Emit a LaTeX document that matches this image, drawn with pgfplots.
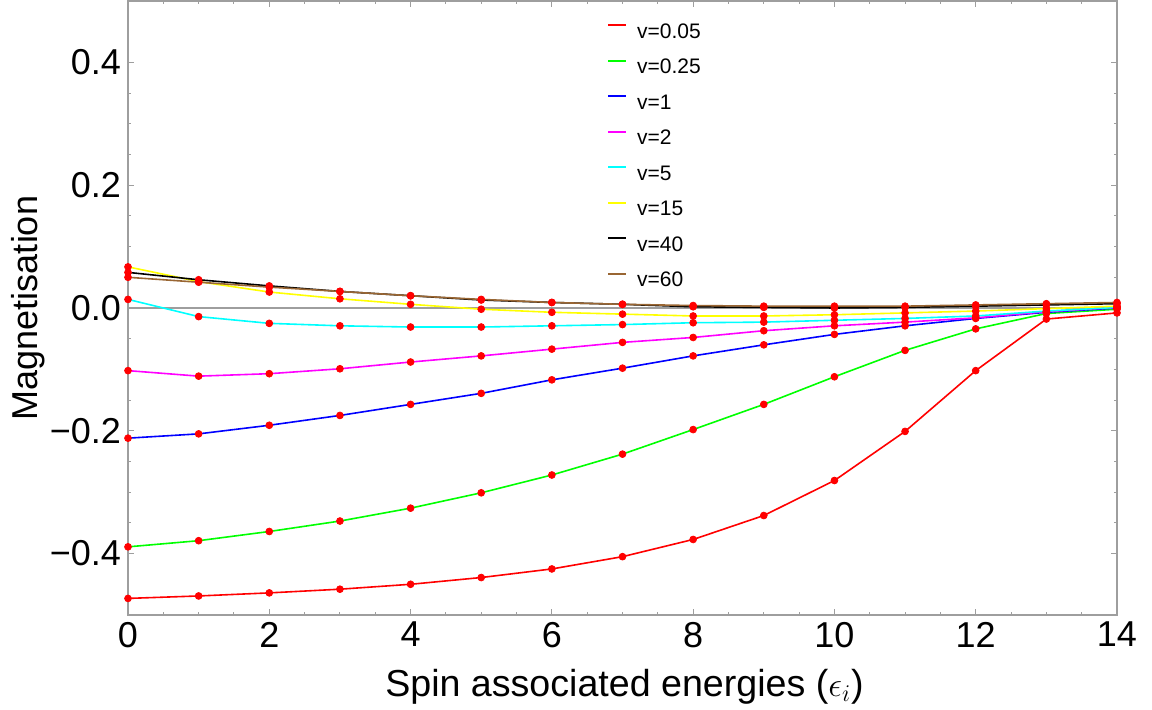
\documentclass[border=0pt]{standalone}
\usepackage{pgfplots}
\pgfplotsset{compat=1.18}
\usepackage{pgfplotstable}
\usepackage{fontspec}
\setmainfont{Liberation Sans}
\definecolor{mred}{rgb}{1,0,0}
\definecolor{mgreen}{rgb}{0,1,0}
\definecolor{mblue}{rgb}{0,0,1}
\definecolor{mmag}{rgb}{1,0,1}
\definecolor{mcyan}{rgb}{0,1,1}
\definecolor{myellow}{rgb}{1,1,0}
\definecolor{mblack}{rgb}{0,0,0}
\definecolor{mbrown}{rgb}{0.6,0.4,0.2}
\definecolor{frame}{rgb}{0.62,0.62,0.62}

\pgfplotstableread{
x  a      b      c      d      e      f      g      h
0  -0.473 -0.389 -0.212 -0.102  0.014  0.067  0.058  0.050
1  -0.469 -0.379 -0.205 -0.111 -0.014  0.043  0.046  0.042
2  -0.464 -0.364 -0.191 -0.107 -0.025  0.026  0.036  0.034
3  -0.458 -0.347 -0.175 -0.099 -0.029  0.015  0.027  0.027
4  -0.450 -0.326 -0.157 -0.088 -0.031  0.006  0.020  0.020
5  -0.439 -0.301 -0.139 -0.078 -0.031 -0.002  0.013  0.014
6  -0.425 -0.272 -0.117 -0.067 -0.029 -0.007  0.009  0.009
7  -0.405 -0.238 -0.098 -0.056 -0.027 -0.010  0.006  0.006
8  -0.377 -0.198 -0.078 -0.048 -0.024 -0.013  0.002  0.004
9  -0.338 -0.157 -0.060 -0.037 -0.023 -0.013  0.001  0.003
10 -0.281 -0.112 -0.043 -0.029 -0.020 -0.011  0.000  0.003
11 -0.201 -0.069 -0.029 -0.023 -0.017 -0.008  0.001  0.003
12 -0.102 -0.034 -0.017 -0.016 -0.013 -0.005  0.003  0.005
13 -0.018 -0.009 -0.007 -0.006 -0.005 -0.001  0.005  0.007
14 -0.008 -0.002  0.000  0.001  0.001  0.003  0.007  0.009
}\datatable

\begin{document}
\begin{tikzpicture}
\path[use as bounding box] (-64pt,-47.5pt) rectangle (512pt,307.5pt);
\begin{axis}[
  at={(0,0)}, anchor=south west,
  scale only axis,
  width=494.5pt, height=307pt,
  xmin=0, xmax=14, ymin=-0.5, ymax=0.5,
  xtick={0,2,...,14},
  ytick={-0.4,-0.2,0,0.2,0.4},
  yticklabels={−0.4,−0.2,0.0,0.2,0.4},
  minor x tick num=3, minor y tick num=3,
  tick pos=both, tick align=inside,
  major tick length=3pt, minor tick length=1.6pt,
  tick style={frame, line width=0.5pt},
  axis line style={frame, line width=0.8pt},
  /pgf/number format/assume math mode=true,
  ticklabel style={font=\fontsize{18}{20}\selectfont, text=black},
  xlabel={Spin associated energies ($\epsilon_i$)},
  ylabel={Magnetisation},
  every axis x label/.style={at={(axis description cs:0.502,-0.132)}, anchor=base, font=\fontsize{18.8}{20}\selectfont},
  every axis y label/.style={at={(axis description cs:-0.101,0.5)}, rotate=90, anchor=center, font=\fontsize{18}{20}\selectfont},
  legend style={at={(axis description cs:0.4843,0.966)}, anchor=north west,
    draw=none, fill=none, inner sep=0pt, column sep=5pt, row sep=7.75pt,
    font=\fontsize{10.5}{12}\selectfont,
    nodes={inner sep=0pt, text height=8pt, text depth=2pt}},
  legend cell align=left,
  legend image code/.code={\draw[#1, line width=0.9pt] (0pt,3.5pt) -- (9pt,3.5pt);},
]
\draw[frame, line width=0.6pt] (axis cs:0,0) -- (axis cs:14,0);
\addplot[mred, line width=0.8pt] table[x=x,y=a]{\datatable};
\addlegendentry{v=0.05}
\addplot[mgreen, line width=0.8pt] table[x=x,y=b]{\datatable};
\addlegendentry{v=0.25}
\addplot[mblue, line width=0.8pt] table[x=x,y=c]{\datatable};
\addlegendentry{v=1}
\addplot[mmag, line width=0.8pt] table[x=x,y=d]{\datatable};
\addlegendentry{v=2}
\addplot[mcyan, line width=0.8pt] table[x=x,y=e]{\datatable};
\addlegendentry{v=5}
\addplot[myellow, line width=0.8pt] table[x=x,y=f]{\datatable};
\addlegendentry{v=15}
\addplot[mblack, line width=0.8pt] table[x=x,y=g]{\datatable};
\addlegendentry{v=40}
\addplot[mbrown, line width=0.8pt] table[x=x,y=h]{\datatable};
\addlegendentry{v=60}
\foreach \c in {a,b,c,d,e,f,g,h}{
  \addplot[only marks, mark=*, mark size=1.7pt, mred, forget plot] table[x=x,y=\c]{\datatable};
}
\end{axis}
\end{tikzpicture}
\end{document}
